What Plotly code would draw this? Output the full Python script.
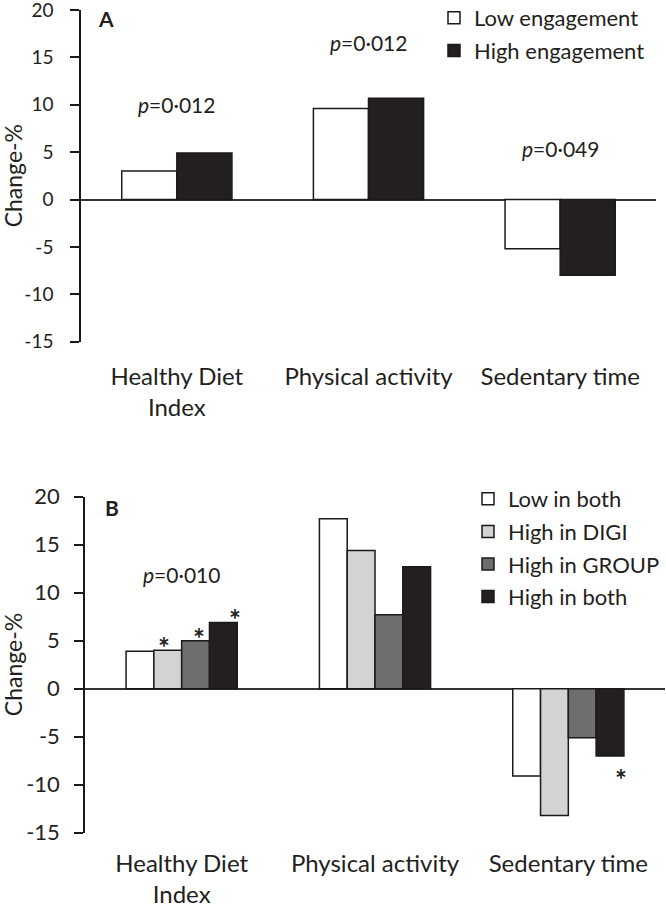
import plotly.graph_objects as go

categories = ["Healthy Diet<br>Index", "Physical activity", "Sedentary time"]
tick_vals = [-15, -10, -5, 0, 5, 10, 15, 20]
tick_text = ["-15", "-10", "-5", "0", "5", "10", "15", "20"]
y_title = "Change-%"

# Panel A
a_series = ["Low engagement", "High engagement"]
a_low = [3.0, 9.6, -5.2]
a_high = [4.9, 10.7, -8.0]
a_colors = ["#ffffff", "#231f20"]
a_pvals = ["<i>p</i>=0·012", "<i>p</i>=0·012", "<i>p</i>=0·049"]
a_pval_y = [10.0, 16.6, 5.4]

# Panel B
b_series = ["Low in both", "High in DIGI", "High in GROUP", "High in both"]
b_low_both = [3.9, 17.7, -9.1]
b_high_digi = [4.0, 14.4, -13.2]
b_high_group = [5.0, 7.7, -5.1]
b_high_both = [6.9, 12.7, -7.0]
b_colors = ["#ffffff", "#d1d3d4", "#6d6e70", "#231f20"]
b_pvals = ["<i>p</i>=0·010"]
b_pval_y = [11.9]
# significance stars: (category index, series index)
b_stars = [(0, 1), (0, 2), (0, 3), (2, 3)]

FONT = "Lato, 'Open Sans', sans-serif"
TXT = "#231f20"
LINE = "#1a1a1a"
A_GAP = 0.425
B_GAP = 0.27

fig = go.Figure()

a_vals = [a_low, a_high]
for i, name in enumerate(a_series):
    fig.add_trace(go.Bar(
        x=categories, y=a_vals[i], name=name, xaxis="x", yaxis="y",
        marker=dict(color=a_colors[i], line=dict(color=LINE, width=1.5)),
        legend="legend", legendgroup="a%d" % i,
    ))

b_vals = [b_low_both, b_high_digi, b_high_group, b_high_both]
for i, name in enumerate(b_series):
    fig.add_trace(go.Bar(
        x=categories, y=b_vals[i], name=name, xaxis="x2", yaxis="y2",
        marker=dict(color=b_colors[i], line=dict(color=LINE, width=1.5)),
        legend="legend2", legendgroup="b%d" % i,
    ))

W, H = 666, 907
def xd(l, r):
    return [l / W, r / W]
def yd(top, bot):
    return [1 - bot / H, 1 - top / H]

def yaxis_style(tsize, standoff):
    return dict(
        range=[-15, 20], tickmode="array", tickvals=tick_vals, ticktext=tick_text,
        ticks="outside", ticklen=9, tickwidth=1.5,
        tickcolor=LINE, showline=True, linecolor=LINE, linewidth=1.5,
        zeroline=True, zerolinecolor="#333333", zerolinewidth=1.5, showgrid=False,
        tickfont=dict(family=FONT, size=tsize, color=TXT), ticklabelstandoff=standoff,
        ticklabeloverflow="allow", automargin=False,
    )

xaxis_common = dict(
    showline=False, ticks="", showgrid=False, zeroline=False,
    tickfont=dict(family=FONT, size=24, color=TXT),
    ticklabeloverflow="allow", automargin=False,
)

annotations = []
for j, t in enumerate(a_pvals):
    annotations.append(dict(x=j, y=a_pval_y[j], xref="x", yref="y", text=t,
                            showarrow=False, font=dict(family=FONT, size=21, color=TXT)))
for j, t in enumerate(b_pvals):
    annotations.append(dict(x=j, y=b_pval_y[j], xref="x2", yref="y2", text=t,
                            showarrow=False, font=dict(family=FONT, size=21, color=TXT)))

gw = 1 - B_GAP
bw = gw / len(b_series)
for (c, s) in b_stars:
    v = b_vals[s][c]
    off = -gw / 2 + bw * (s + 0.5)
    annotations.append(dict(
        x=c + off, y=v, xref="x2", yref="y2", text="<b>*</b>", showarrow=False,
        yanchor="middle", yshift=3 if v >= 0 else -23,
        font=dict(family=FONT, size=28, color=TXT)))

# y-axis titles
for yref_dom in (yd(10, 341.7), yd(496.7, 832.7)):
    annotations.append(dict(x=12.5 / W, y=sum(yref_dom) / 2, xref="paper", yref="paper",
                            text=y_title, textangle=-90, showarrow=False,
                            xanchor="center", yanchor="middle",
                            font=dict(family=FONT, size=23, color=TXT)))

annotations.append(dict(x=96 / W, y=1 - 18 / H, xref="paper", yref="paper", text="<b>A</b>",
                        xanchor="left", yanchor="middle", showarrow=False,
                        font=dict(family=FONT, size=21, color=TXT)))
annotations.append(dict(x=103 / W, y=1 - 507 / H, xref="paper", yref="paper", text="<b>B</b>",
                        xanchor="left", yanchor="middle", showarrow=False,
                        font=dict(family=FONT, size=21, color=TXT)))

legend_common = dict(
    xanchor="left", yanchor="top", bgcolor="rgba(0,0,0,0)",
    font=dict(family=FONT, size=22, color=TXT), itemwidth=30,
)

fig.update_layout(
    width=W, height=H, margin=dict(l=0, r=0, t=0, b=0, autoexpand=False),
    paper_bgcolor="white", plot_bgcolor="white",
    barmode="group", bargap=A_GAP, bargroupgap=0,
    xaxis=dict(domain=xd(81, 656), anchor="y", ticklabelstandoff=18, **xaxis_common),
    yaxis=dict(domain=yd(10, 341.7), anchor="x", **yaxis_style(19, 13)),
    xaxis2=dict(domain=xd(85, 665), anchor="y2", ticklabelstandoff=14, **xaxis_common),
    yaxis2=dict(domain=yd(496.7, 832.7), anchor="x2", **yaxis_style(22, 10)),
    legend=dict(x=434 / W, y=1 + 3 / H, tracegroupgap=1, **legend_common),
    legend2=dict(x=468 / W, y=1 - 478 / H, tracegroupgap=1, **legend_common),
    annotations=annotations,
    showlegend=True,
)

fig.write_html("out.html", config={"displayModeBar": False},
               post_script="document.body.style.margin='0';")
